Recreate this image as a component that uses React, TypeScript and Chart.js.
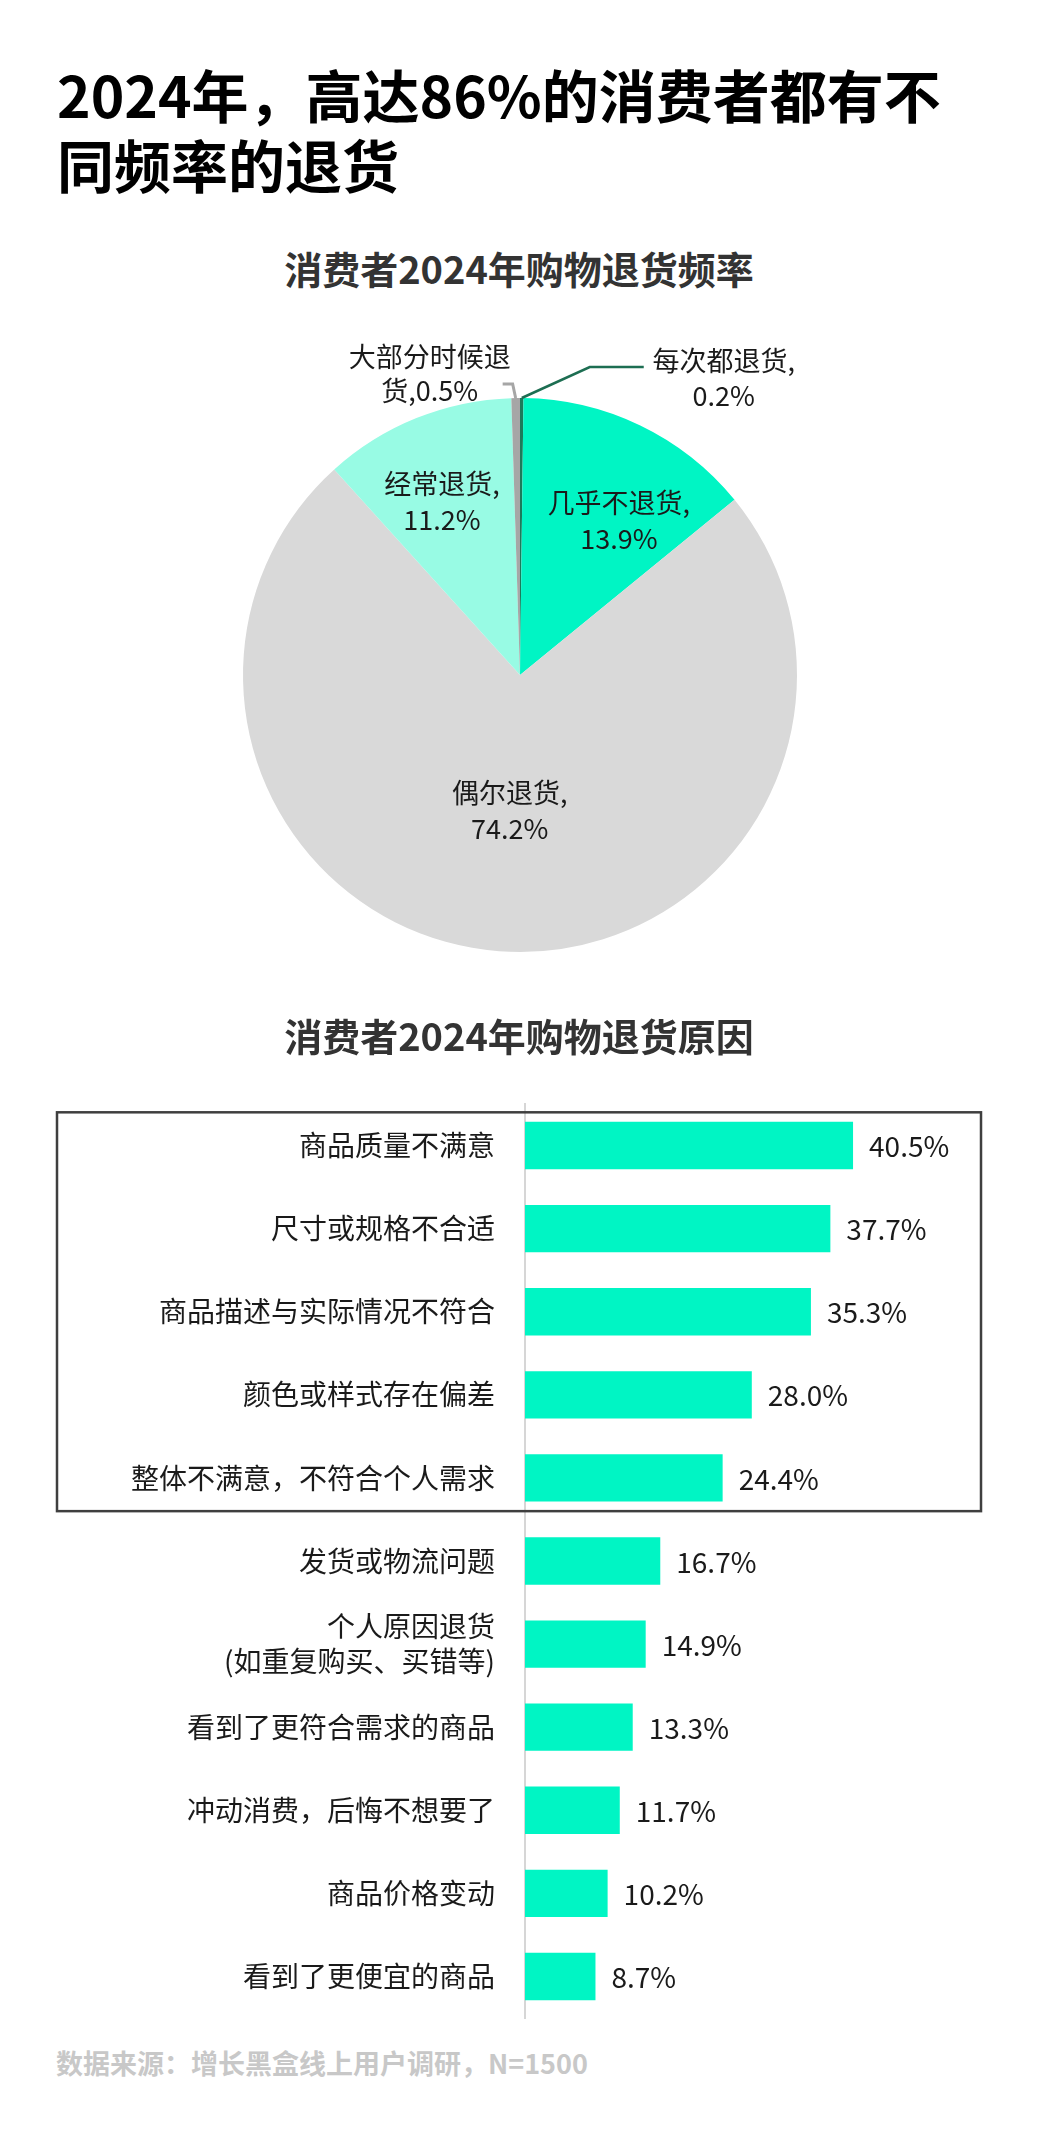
import React, { useEffect, useRef } from "react";
import { Chart, registerables } from "chart.js";

Chart.register(...registerables);

const FONT = '"Noto Sans CJK SC", "Noto Sans", sans-serif';

// ---- Pie data ----
const pieLabels = ["每次都退货", "几乎不退货", "偶尔退货", "经常退货", "大部分时候退货"];
const pieValues = [0.2, 13.9, 74.2, 11.2, 0.5];
const pieColors = ["#1C7A5A", "#00F5C4", "#D9D9D9", "#98FBE4", "#A6A6A6"];

// ---- Bar data ----
const reasonLabels: (string | string[])[] = [
  "商品质量不满意",
  "尺寸或规格不合适",
  "商品描述与实际情况不符合",
  "颜色或样式存在偏差",
  "整体不满意，不符合个人需求",
  "发货或物流问题",
  ["个人原因退货", "(如重复购买、买错等)"],
  "看到了更符合需求的商品",
  "冲动消费，后悔不想要了",
  "商品价格变动",
  "看到了更便宜的商品",
];
const reasonValues = [40.5, 37.7, 35.3, 28.0, 24.4, 16.7, 14.9, 13.3, 11.7, 10.2, 8.7];
const highlightCount = 5;

// label placement (layout only)
type InnerSpec = { kind: "inner"; f: number; da: number };
type OuterSpec = {
  kind: "outer";
  split: number;
  pts: [number, number][];
  textDx: number;
  lineDy: [number, number];
  color: string;
  width: number;
};
const pieLabelLayout: (InnerSpec | OuterSpec)[] = [
  { kind: "outer", split: -1, pts: [[68, -31], [122, -31]], textDx: 202, lineDy: [-37, -2], color: "#1D6E52", width: 2.5 },
  { kind: "inner", f: 0.66, da: 7 },
  { kind: "inner", f: 0.49, da: 0 },
  { kind: "inner", f: 0.685, da: -2.3 },
  { kind: "outer", split: 6, pts: [[-3, -14], [-13, -14]], textDx: -86, lineDy: [-41, -7], color: "#A6A6A6", width: 3 },
];

const pieLabelPlugin = {
  id: "pieLabelPlugin",
  afterDatasetsDraw(chart: any) {
    const ctx: CanvasRenderingContext2D = chart.ctx;
    const meta = chart.getDatasetMeta(0);
    ctx.save();
    ctx.font = `27px ${FONT}`;
    ctx.fillStyle = "#1a1a1a";
    ctx.textAlign = "center";
    ctx.textBaseline = "middle";
    meta.data.forEach((arc: any, i: number) => {
      const p = arc.getProps(["x", "y", "startAngle", "endAngle", "outerRadius"], true);
      const mid = (p.startAngle + p.endAngle) / 2;
      const spec = pieLabelLayout[i];
      const valueText = `${pieValues[i].toFixed(1)}%`;
      if (spec.kind === "inner") {
        const a = mid + (spec.da * Math.PI) / 180;
        const r = p.outerRadius * spec.f;
        const tx = p.x + Math.cos(a) * r;
        const ty = p.y + Math.sin(a) * r;
        ctx.fillText(`${pieLabels[i]},`, tx, ty - 18);
        ctx.fillText(valueText, tx, ty + 18);
      } else {
        const ex = p.x + Math.cos(mid) * p.outerRadius;
        const ey = p.y + Math.sin(mid) * p.outerRadius;
        ctx.beginPath();
        ctx.strokeStyle = spec.color;
        ctx.lineWidth = spec.width;
        ctx.moveTo(ex, ey);
        spec.pts.forEach(([dx, dy]) => ctx.lineTo(ex + dx, ey + dy));
        ctx.stroke();
        const full = `${pieLabels[i]},${valueText}`;
        let lines: string[];
        if (spec.split > 0) {
          lines = [full.slice(0, spec.split), full.slice(spec.split)];
        } else {
          lines = [`${pieLabels[i]},`, valueText];
        }
        const tx = ex + spec.textDx;
        ctx.fillText(lines[0], tx, ey + spec.lineDy[0]);
        ctx.fillText(lines[1], tx, ey + spec.lineDy[1]);
      }
    });
    ctx.restore();
  },
};

const barExtrasPlugin = {
  id: "barExtrasPlugin",
  afterDatasetsDraw(chart: any) {
    const ctx: CanvasRenderingContext2D = chart.ctx;
    const meta = chart.getDatasetMeta(0);
    ctx.save();
    ctx.font = `28px ${FONT}`;
    ctx.fillStyle = "#1a1a1a";
    ctx.textAlign = "left";
    ctx.textBaseline = "middle";
    meta.data.forEach((bar: any, i: number) => {
      ctx.fillText(`${reasonValues[i].toFixed(1)}%`, bar.x + 16, bar.y + 1);
    });
    // highlight box around the top reasons
    const ys = chart.scales.y;
    const step = ys.getPixelForValue(1) - ys.getPixelForValue(0);
    const top = ys.getPixelForValue(0) - step * 0.4;
    const bottom = ys.getPixelForValue(highlightCount - 1) + step * 0.4;
    ctx.strokeStyle = "#3f3f3f";
    ctx.lineWidth = 2.5;
    ctx.strokeRect(57, top, 981 - 57, bottom - top);
    ctx.restore();
  },
};

function PieChart() {
  const ref = useRef<HTMLCanvasElement>(null);
  useEffect(() => {
    const chart = new Chart(ref.current!, {
      type: "pie",
      data: {
        labels: pieLabels,
        datasets: [
          {
            data: pieValues,
            backgroundColor: pieColors,
            borderWidth: 0,
          },
        ],
      },
      options: {
        animation: false,
        responsive: false,
        events: [],
        layout: { padding: { top: 68, bottom: 58, left: 243, right: 241 } },
        plugins: { legend: { display: false }, tooltip: { enabled: false } },
      },
      plugins: [pieLabelPlugin],
    } as any);
    return () => chart.destroy();
  }, []);
  return (
    <canvas
      ref={ref}
      width={1038}
      height={680}
      style={{ position: "absolute", left: 0, top: 330, width: 1038, height: 680 }}
    />
  );
}

function BarChart() {
  const ref = useRef<HTMLCanvasElement>(null);
  useEffect(() => {
    const chart = new Chart(ref.current!, {
      type: "bar",
      data: {
        labels: reasonLabels,
        datasets: [
          {
            data: reasonValues,
            backgroundColor: "#00F5C4",
            borderWidth: 0,
            barPercentage: 0.57,
            categoryPercentage: 1,
          },
        ],
      },
      options: {
        indexAxis: "y",
        animation: false,
        responsive: false,
        events: [],
        layout: { padding: { top: 14, bottom: 12, left: 0, right: 108 } },
        scales: {
          x: { display: false, min: 0, max: 50 },
          y: {
            afterFit: (scale: any) => {
              scale.width = 525;
              scale.paddingTop = 0;
              scale.paddingBottom = 0;
            },
            grid: { display: false, drawTicks: false },
            border: { display: true, color: "#d6d6d6", width: 2 },
            ticks: {
              padding: 30,
              color: "#1a1a1a",
              font: { family: FONT, size: 28, lineHeight: 1.25 },
            },
          },
        },
        plugins: { legend: { display: false }, tooltip: { enabled: false } },
      },
      plugins: [barExtrasPlugin],
    } as any);
    return () => chart.destroy();
  }, []);
  return (
    <canvas
      ref={ref}
      width={1038}
      height={940}
      style={{ position: "absolute", left: 0, top: 1090, width: 1038, height: 940 }}
    />
  );
}

export default function App() {
  useEffect(() => {
    document.body.style.margin = "0";
  }, []);
  return (
    <div
      style={{
        position: "relative",
        width: 1038,
        height: 2136,
        background: "#ffffff",
        fontFamily: FONT,
        overflow: "hidden",
      }}
    >
      <div
        style={{
          position: "absolute",
          left: 57,
          top: 58,
          fontSize: 57,
          fontWeight: 700,
          lineHeight: "70px",
          color: "#000",
          whiteSpace: "nowrap",
        }}
      >
        2024年，高达86%的消费者都有不
        <br />
        同频率的退货
      </div>
      <div
        style={{
          position: "absolute",
          left: 0,
          width: 1038,
          top: 243,
          textAlign: "center",
          fontSize: 38,
          fontWeight: 700,
          lineHeight: "50px",
          color: "#333",
        }}
      >
        消费者2024年购物退货频率
      </div>
      <PieChart />
      <div
        style={{
          position: "absolute",
          left: 0,
          width: 1038,
          top: 1010,
          textAlign: "center",
          fontSize: 38,
          fontWeight: 700,
          lineHeight: "50px",
          color: "#333",
        }}
      >
        消费者2024年购物退货原因
      </div>
      <BarChart />
      <div
        style={{
          position: "absolute",
          left: 56,
          top: 2045,
          fontSize: 27,
          fontWeight: 700,
          lineHeight: "36px",
          color: "#c8c8c8",
          whiteSpace: "nowrap",
        }}
      >
        数据来源：增长黑盒线上用户调研，N=1500
      </div>
    </div>
  );
}
